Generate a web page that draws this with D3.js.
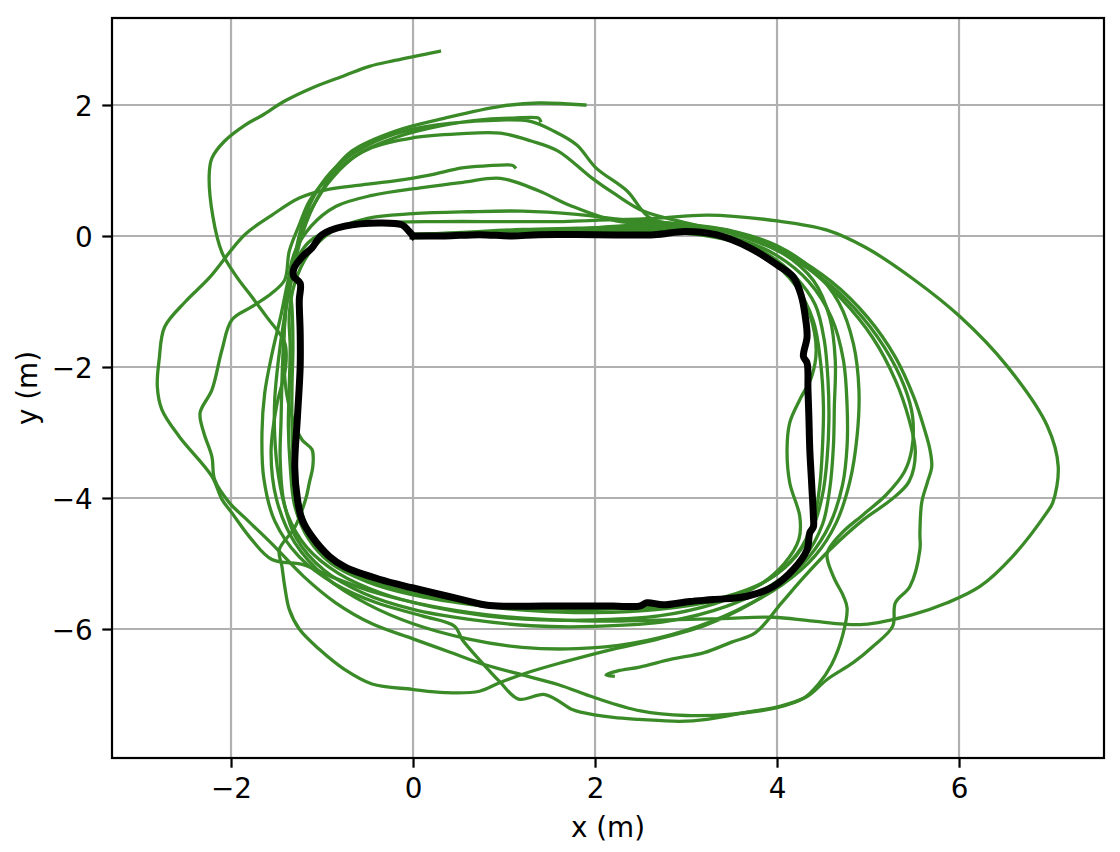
<!DOCTYPE html>
<html><head><meta charset="utf-8">
<script src="https://cdn.jsdelivr.net/npm/d3@7"></script>
<style>body{margin:0;background:#fff}svg{display:block}text{font-family:"DejaVu Sans",sans-serif;fill:#000}</style>
</head><body><svg id="c" width="1120" height="852"></svg>
<script>
const xTicks = [-2, 0, 2, 4, 6];
const yTicks = [2, 0, -2, -4, -6];
const xLabel = "x (m)";
const yLabel = "y (m)";

const groundTruth = [[0.0,0.0],[0.35,0.0],[0.73,0.02],[1.09,0.0],[1.38,0.02],[2.01,0.02],[2.65,0.02],[2.99,0.07],[3.33,0.02],[3.7,-0.18],[4.0,-0.44],[4.18,-0.63],[4.27,-0.93],[4.31,-1.23],[4.33,-1.54],[4.29,-1.84],[4.33,-1.94],[4.34,-2.35],[4.35,-2.76],[4.36,-3.26],[4.38,-3.77],[4.4,-4.3],[4.4,-4.44],[4.36,-4.53],[4.33,-4.79],[4.18,-5.09],[3.96,-5.35],[3.67,-5.5],[3.3,-5.55],[3.04,-5.58],[2.75,-5.63],[2.57,-5.6],[2.49,-5.65],[2.2,-5.65],[1.84,-5.65],[1.45,-5.65],[0.84,-5.64],[0.54,-5.55],[-0.01,-5.37],[-0.37,-5.24],[-0.75,-5.05],[-0.92,-4.89],[-1.11,-4.59],[-1.22,-4.33],[-1.27,-4.02],[-1.3,-3.52],[-1.27,-2.76],[-1.24,-1.99],[-1.24,-1.48],[-1.25,-0.98],[-1.24,-0.72],[-1.31,-0.62],[-1.31,-0.5],[-1.22,-0.32],[-1.11,-0.18],[-1.0,0.02],[-0.75,0.15],[-0.37,0.2],[-0.12,0.17],[-0.05,0.08],[0.0,0.0]];

const runA = [[0.05,0.02],[0.6,0.06],[1.2,0.1],[1.8,0.12],[2.4,0.14],[3.0,0.1],[3.5,-0.04],[3.9,-0.28],[4.2,-0.62],[4.42,-1.05],[4.52,-1.6],[4.56,-2.2],[4.57,-2.8],[4.55,-3.4],[4.5,-3.95],[4.38,-4.5],[4.15,-4.98],[3.8,-5.33],[3.3,-5.57],[2.7,-5.7],[2.0,-5.75],[1.3,-5.72],[0.6,-5.62],[0.0,-5.48],[-0.5,-5.28],[-0.9,-5.0],[-1.15,-4.62],[-1.3,-4.12],[-1.35,-3.5],[-1.37,-2.9],[-1.36,-2.3],[-1.35,-1.7],[-1.36,-1.2],[-1.3,-0.72],[-1.15,-0.28],[-0.9,0.06],[-0.5,0.27],[0.0,0.34],[0.6,0.37],[1.2,0.38],[1.8,0.33],[2.3,0.25],[2.9,0.19],[3.5,0.08],[4.0,-0.15],[4.4,-0.52],[4.68,-1.02],[4.84,-1.65],[4.9,-2.35],[4.88,-3.05],[4.8,-3.75],[4.65,-4.38],[4.42,-4.88],[4.05,-5.33],[3.55,-5.72],[3.0,-6.02],[2.4,-6.22],[1.8,-6.3],[1.2,-6.28],[0.6,-6.15],[0.0,-5.92],[-0.5,-5.62],[-0.95,-5.22],[-1.3,-4.68],[-1.5,-4.02],[-1.56,-3.3],[-1.5,-2.6],[-1.4,-2.0],[-1.41,-1.63],[-1.6,-1.25],[-1.77,-0.93],[-1.93,-0.64],[-2.1,-0.25],[-2.2,0.3],[-2.24,0.93],[-2.21,1.19],[-2.07,1.45],[-1.85,1.69],[-1.66,1.84],[-1.41,2.06],[-1.11,2.26],[-0.75,2.45],[-0.48,2.59],[-0.2,2.68],[0.29,2.82]];

const runB = [[0.0,-0.03],[0.6,0.0],[1.2,0.03],[1.8,0.06],[2.4,0.1],[3.0,0.07],[3.5,-0.06],[3.9,-0.32],[4.18,-0.7],[4.36,-1.2],[4.43,-1.74],[4.38,-2.15],[4.25,-2.5],[4.14,-2.85],[4.11,-3.26],[4.14,-3.77],[4.25,-4.28],[4.24,-4.63],[4.08,-5.0],[3.78,-5.35],[3.3,-5.62],[2.7,-5.8],[2.0,-5.86],[1.4,-5.86],[0.8,-5.8],[0.2,-5.66],[-0.35,-5.45],[-0.82,-5.15],[-1.17,-4.75],[-1.38,-4.25],[-1.48,-3.65],[-1.52,-3.05],[-1.52,-2.5],[-1.48,-1.9],[-1.42,-1.3],[-1.33,-0.64],[-1.22,0.02],[-1.03,0.63],[-0.81,1.04],[-0.45,1.35],[0.0,1.5],[0.5,1.56],[0.96,1.57],[1.3,1.45],[1.59,1.3],[1.97,0.88],[2.23,0.63],[2.53,0.38],[3.0,0.2],[3.5,0.04],[4.0,-0.22],[4.45,-0.6],[4.85,-1.1],[5.18,-1.7],[5.4,-2.3],[5.49,-2.76],[5.48,-3.26],[5.4,-3.6],[5.2,-3.95],[4.95,-4.25],[4.7,-4.55],[4.55,-4.85],[4.62,-5.2],[4.73,-5.5],[4.77,-5.68],[4.72,-6.1],[4.6,-6.54],[4.45,-6.85],[4.3,-7.05],[4.0,-7.2],[3.5,-7.3],[3.0,-7.32],[2.5,-7.25],[2.0,-7.05],[1.6,-6.85],[1.2,-6.7],[0.8,-6.55],[0.4,-6.35],[0.0,-6.15],[-0.45,-5.92],[-0.85,-5.6],[-1.2,-5.2],[-1.55,-4.7],[-1.85,-4.3],[-2.02,-4.07],[-2.18,-3.72],[-2.21,-3.37],[-2.3,-3.0],[-2.34,-2.7],[-2.21,-2.35],[-2.1,-1.74],[-1.99,-1.28],[-1.77,-1.08],[-1.55,-0.87],[-1.41,-0.67],[-1.36,-0.23],[-1.25,0.17],[-1.14,0.53],[-0.92,0.93],[-0.67,1.3],[-0.2,1.6],[0.35,1.8],[0.96,1.98],[1.38,2.03],[1.89,2.0]];

const runC = [[0.02,0.0],[0.6,0.04],[1.2,0.06],[1.8,0.1],[2.4,0.16],[3.0,0.14],[3.6,0.02],[4.05,-0.25],[4.4,-0.68],[4.58,-1.25],[4.64,-1.9],[4.63,-2.6],[4.62,-3.2],[4.58,-3.85],[4.5,-4.4],[4.3,-4.9],[3.95,-5.32],[3.45,-5.65],[2.8,-5.88],[2.0,-5.96],[1.3,-5.95],[0.6,-5.85],[0.0,-5.7],[-0.55,-5.45],[-0.98,-5.1],[-1.28,-4.62],[-1.42,-4.05],[-1.46,-3.4],[-1.45,-2.8],[-1.44,-2.2],[-1.42,-1.55],[-1.38,-0.9],[-1.3,-0.3],[-1.2,0.25],[-1.05,0.7],[-0.85,1.05],[-0.55,1.35],[-0.1,1.6],[0.4,1.72],[0.96,1.77],[1.29,1.75],[1.55,1.6],[1.8,1.39],[2.01,1.04],[2.35,0.69],[2.61,0.27],[3.1,0.15],[3.6,0.02],[4.1,-0.25],[4.6,-0.7],[5.0,-1.25],[5.3,-1.85],[5.5,-2.45],[5.62,-2.95],[5.68,-3.26],[5.7,-3.52],[5.65,-3.77],[5.59,-4.07],[5.57,-4.53],[5.57,-4.79],[5.46,-5.35],[5.3,-5.6],[5.27,-5.96],[5.05,-6.27],[4.84,-6.51],[4.55,-6.77],[4.33,-7.03],[4.03,-7.18],[3.67,-7.27],[3.23,-7.38],[2.93,-7.41],[2.49,-7.38],[2.2,-7.35],[1.84,-7.27],[1.75,-7.23],[1.45,-7.0],[1.16,-7.07],[0.95,-6.8],[0.75,-6.5],[0.54,-6.16],[0.46,-5.96],[0.1,-5.8],[-0.4,-5.6],[-0.85,-5.32],[-1.25,-4.9],[-1.52,-4.35],[-1.64,-3.7],[-1.66,-3.0],[-1.63,-2.4],[-1.55,-1.8],[-1.45,-1.2],[-1.36,-0.6],[-1.25,-0.05],[-1.1,0.45],[-0.88,0.9],[-0.6,1.25],[-0.2,1.5],[0.3,1.68],[0.8,1.78],[1.1,1.8],[1.38,1.8],[1.4,1.76]];

const runD = [[0.0,0.03],[0.6,0.05],[1.2,0.08],[1.8,0.1],[2.4,0.12],[3.0,0.1],[3.55,-0.03],[4.0,-0.3],[4.35,-0.7],[4.6,-1.25],[4.73,-1.9],[4.77,-2.6],[4.77,-3.2],[4.72,-3.8],[4.58,-4.4],[4.35,-4.9],[4.0,-5.35],[3.6,-5.7],[3.2,-5.95],[2.7,-6.15],[2.19,-6.31],[1.64,-6.51],[1.27,-6.66],[0.95,-6.82],[0.73,-6.95],[0.35,-6.97],[-0.01,-6.92],[-0.45,-6.84],[-0.75,-6.62],[-1.03,-6.31],[-1.25,-6.0],[-1.36,-5.7],[-1.41,-5.35],[-1.44,-5.05],[-1.47,-4.79],[-1.3,-4.45],[-1.18,-4.02],[-1.14,-3.77],[-1.1,-3.5],[-1.11,-3.26],[-1.22,-3.11],[-1.33,-2.76],[-1.4,-2.3],[-1.42,-1.7],[-1.4,-1.1],[-1.33,-0.55],[-1.15,-0.1],[-0.85,0.12],[-0.4,0.2],[0.3,0.22],[1.0,0.22],[1.6,0.22],[2.0,0.24],[2.65,0.27],[3.24,0.32],[4.0,0.23],[4.55,0.09],[4.98,-0.18],[5.5,-0.66],[6.01,-1.23],[6.53,-1.99],[6.97,-2.9],[7.09,-3.52],[7.03,-4.07],[6.96,-4.23],[6.59,-4.89],[6.23,-5.35],[5.87,-5.6],[5.49,-5.78],[4.95,-5.93],[4.4,-5.88],[3.96,-5.82],[3.4,-5.84],[2.8,-5.86],[2.0,-5.88],[1.4,-5.85],[0.8,-5.78],[0.2,-5.65],[-0.4,-5.45],[-0.9,-5.2],[-1.2,-5.02],[-1.55,-4.94],[-1.77,-4.64],[-1.99,-4.23],[-2.1,-4.02],[-2.21,-3.67],[-2.57,-3.06],[-2.76,-2.65],[-2.81,-2.3],[-2.79,-1.89],[-2.73,-1.39],[-2.5,-1.0],[-2.24,-0.64],[-1.85,0.02],[-1.55,0.32],[-1.25,0.58],[-0.97,0.7],[-0.56,0.78],[-0.2,0.84],[0.18,0.93],[0.54,1.04],[0.8,1.07],[1.09,1.08],[1.12,1.05]];

const runE = [[0.05,-0.02],[0.6,0.02],[1.2,0.04],[1.8,0.06],[2.4,0.06],[3.0,0.04],[3.5,-0.08],[3.9,-0.35],[4.2,-0.75],[4.4,-1.3],[4.48,-1.95],[4.51,-2.6],[4.5,-3.2],[4.47,-3.8],[4.4,-4.35],[4.22,-4.85],[3.9,-5.25],[3.4,-5.52],[2.8,-5.65],[2.0,-5.7],[1.3,-5.68],[0.6,-5.58],[0.0,-5.45],[-0.5,-5.25],[-0.88,-4.95],[-1.12,-4.55],[-1.26,-4.05],[-1.31,-3.5],[-1.33,-2.9],[-1.33,-2.3],[-1.32,-1.7],[-1.33,-1.1],[-1.36,-0.65],[-1.3,-0.25],[-1.12,0.15],[-0.85,0.45],[-0.45,0.62],[0.1,0.74],[0.55,0.82],[0.96,0.88],[1.38,0.69],[1.72,0.47],[2.23,0.23],[2.8,0.18],[3.4,0.1],[3.9,-0.12],[4.3,-0.45],[4.7,-0.95],[5.05,-1.55],[5.3,-2.2],[5.45,-2.8],[5.52,-3.3],[5.45,-3.75],[5.26,-4.02],[4.95,-4.33],[4.58,-4.79],[4.3,-5.2],[4.05,-5.6],[3.76,-6.06],[3.5,-6.2],[3.2,-6.36],[2.84,-6.46],[2.49,-6.58],[2.25,-6.64],[2.12,-6.7],[2.2,-6.72]];

const greenRuns = [runA, runB, runC, runD, runE];

const W = 1120, H = 852;
const L = 112, R = 1104, T = 18, B = 758;
const FS = 27.8;
const x = d3.scaleLinear().domain([-3.308, 7.593]).range([L, R]);
const y = d3.scaleLinear().domain([-7.969, 3.328]).range([B, T]);

const svg = d3.select("#c");
svg.append("defs").append("clipPath").attr("id","clip").append("rect")
  .attr("x", L).attr("y", T).attr("width", R-L).attr("height", B-T);

// grid
const g = svg.append("g");
g.selectAll("line.gx").data(xTicks).join("line")
  .attr("x1", d=>x(d)).attr("x2", d=>x(d)).attr("y1", T).attr("y2", B)
  .attr("stroke", "#b0b0b0").attr("stroke-width", 2.2);
g.selectAll("line.gy").data(yTicks).join("line")
  .attr("y1", d=>y(d)).attr("y2", d=>y(d)).attr("x1", L).attr("x2", R)
  .attr("stroke", "#b0b0b0").attr("stroke-width", 2.2);

const line = d3.line().x(d=>x(d[0])).y(d=>y(d[1])).curve(d3.curveCatmullRom.alpha(0.5));
const plot = svg.append("g").attr("clip-path","url(#clip)");
plot.selectAll("path.green").data(greenRuns).join("path")
  .attr("d", line).attr("fill","none").attr("stroke","#3a8b28")
  .attr("stroke-width", 3.3).attr("stroke-linejoin","round").attr("stroke-linecap","square");
plot.append("path").datum(groundTruth).attr("d", line).attr("fill","none")
  .attr("stroke","#000").attr("stroke-width", 7).attr("stroke-linejoin","round").attr("stroke-linecap","square");

// axes
const xa = svg.append("g").attr("transform", `translate(0,${B})`)
  .call(d3.axisBottom(x).tickValues(xTicks).tickSize(9.7).tickPadding(9.7));
const ya = svg.append("g").attr("transform", `translate(${L},0)`)
  .call(d3.axisLeft(y).tickValues(yTicks).tickSize(9.7).tickPadding(9.7));
[xa, ya].forEach(a => {
  a.select(".domain").remove();
  a.selectAll(".tick line").attr("stroke","#000").attr("stroke-width",2.2);
  a.selectAll(".tick text").attr("font-size", FS).attr("font-family","DejaVu Sans").attr("fill","#000");
});
xa.selectAll(".tick text").attr("dy", null).attr("y", 19.4 + 0.76*FS*0.96);
ya.selectAll(".tick text").attr("dy", null).attr("dominant-baseline", null).attr("y", 0.3645*FS);

svg.append("rect").attr("x", L).attr("y", T).attr("width", R-L).attr("height", B-T)
  .attr("fill","none").attr("stroke","#000").attr("stroke-width",2.2);

svg.append("text").attr("x", (L+R)/2).attr("y", 837).attr("text-anchor","middle")
  .attr("font-size", FS).text(xLabel);
svg.append("text").attr("transform", `translate(37,${(T+B)/2}) rotate(-90)`).attr("text-anchor","middle")
  .attr("font-size", FS).text(yLabel);
</script></body></html>
